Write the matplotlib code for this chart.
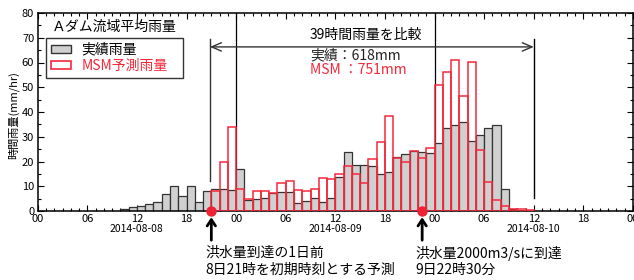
import matplotlib
matplotlib.use('Agg')
import matplotlib.pyplot as plt
import matplotlib.dates as mdates
from matplotlib.patches import Patch
from matplotlib.ticker import MultipleLocator
import pandas as pd

plt.rcParams['font.family'] = ['Noto Sans CJK JP', 'DejaVu Sans']
NUM = ['Liberation Sans Narrow', 'Noto Sans CJK JP', 'DejaVu Sans']

# ---------------- data ----------------
obs_start = '2014-08-08 10:00'
obs_values = [0.8, 1.5, 2.0, 3.0, 3.6, 6.7, 10.1, 6.2, 9.9, 3.5, 7.9,
              8.8, 9.0, 8.4, 17.1, 4.6, 4.7, 5.4, 7.3, 7.6, 7.6,
              3.4, 3.9, 5.1, 3.6, 5.1, 13.7, 23.7, 18.5, 18.5, 18.2,
              14.8, 15.9, 22.0, 23.2, 24.3, 24.0, 23.3, 27.6, 33.7, 34.8,
              35.9, 28.3, 30.6, 33.7, 34.6, 9.0, 0.8]
msm_start = '2014-08-08 21:00'
msm_values = [8.0, 19.7, 33.9, 9.0, 4.7, 8.0, 8.0, 7.3, 11.2, 12.3,
              8.5, 8.2, 9.0, 13.4, 13.1, 14.8, 18.3, 14.8, 11.5, 21.2,
              27.9, 38.5, 21.5, 20.0, 24.4, 21.3, 25.3, 50.9, 56.0, 61.1,
              46.4, 60.3, 24.8, 11.9, 4.4, 2.0, 1.0, 0.7, 0.4]
series_labels = ['実績雨量', 'MSM予測雨量']
title = 'Ａダム流域平均雨量'
ylabel = '時間雨量(mm/hr)'
date_labels = ['2014-08-08', '2014-08-09', '2014-08-10']
compare_title = '39時間雨量を比較'
compare_obs = '実績：618mm'
compare_msm = 'MSM ：751mm'
init_time = '2014-08-08 21:00'
flood_time = '2014-08-09 22:30'
note_left = ['洪水量到達の1日前', '8日21時を初期時刻とする予測']
note_right = ['洪水量2000m3/sに到達', '9日22時30分']

RED = '#f5283a'
GRAY = '#d0d0d0'
EDGE = '#333333'

W, H = 634, 280
fig = plt.figure(figsize=(W / 100, H / 100), dpi=100)
ax = fig.add_axes([37.7 / W, 1 - 211 / H, (633 - 37.7) / W, (211 - 13) / H])

obs_t = mdates.date2num(pd.date_range(obs_start, periods=len(obs_values), freq='h'))
msm_t = mdates.date2num(pd.date_range(msm_start, periods=len(msm_values), freq='h'))
hw = 1 / 24

ax.bar(obs_t, obs_values, width=hw, align='edge', color=GRAY,
       edgecolor=EDGE, linewidth=0.9, zorder=2)
ax.bar(msm_t, msm_values, width=hw, align='edge', fill=False,
       edgecolor=RED, linewidth=1.1, zorder=3)

t0 = mdates.date2num(pd.Timestamp('2014-08-08'))
for d in [1, 2]:
    ax.axvline(t0 + d, color='black', lw=0.9, zorder=1)

ax.set_xlim(t0, t0 + 3)
ax.set_ylim(0, 80)

ax.xaxis.set_major_locator(mdates.HourLocator(byhour=[0, 6, 12, 18]))
ax.xaxis.set_minor_locator(mdates.HourLocator())
ax.xaxis.set_major_formatter(mdates.DateFormatter('%H'))
ax.yaxis.set_major_locator(MultipleLocator(10))
ax.yaxis.set_minor_locator(MultipleLocator(5))
ax.tick_params(which='both', direction='in', top=True, right=True,
               labelsize=8, width=0.8)
ax.tick_params(which='major', length=4, pad=2.5)
ax.tick_params(which='minor', length=2)
for lab in ax.get_xticklabels() + ax.get_yticklabels():
    lab.set_family(NUM)
for s in ax.spines.values():
    s.set_linewidth(1.1)

trans = ax.get_xaxis_transform()
for i, dl in enumerate(date_labels):
    ax.text(t0 + i + 0.5, (211 - 229) / 198, dl, transform=trans,
            ha='center', va='center', fontsize=7.5, family=NUM)

fig.text(13 / W, 1 - 115 / H, ylabel, rotation=90, ha='center',
         va='center', fontsize=8, family=NUM)
fig.text(52 / W, 1 - 27 / H, title, ha='left', va='center', fontsize=10)

handles = [Patch(facecolor=GRAY, edgecolor=EDGE, lw=1),
           Patch(facecolor='white', edgecolor=RED, lw=1.2)]
leg = ax.legend(handles, series_labels, loc='upper left',
                bbox_to_anchor=(46 / W, 1 - 79 / H, 137 / W, 41 / H),
                bbox_transform=fig.transFigure, mode='expand',
                fontsize=10, fancybox=False, edgecolor=EDGE,
                framealpha=1, borderpad=0.35, labelspacing=0.15,
                handlelength=1.45, handleheight=0.6, handletextpad=0.75,
                borderaxespad=0)
leg.get_frame().set_linewidth(1.0)
leg.get_texts()[1].set_color(RED)
leg.set_zorder(6)

# comparison bracket
tl = t0 + 20.83 / 24
tr = t0 + 60 / 24
ax.plot([tl, tl], [12.1, 69.6], color=EDGE, lw=1, zorder=4)
ax.plot([tr, tr], [5.3, 69.6], color='black', lw=1, zorder=4)
ax.annotate('', xy=(tl, 66.3), xytext=(tr, 66.3),
            arrowprops=dict(arrowstyle='<->,head_length=0.7,head_width=0.3',
                            lw=1, color=EDGE, shrinkA=0, shrinkB=0), zorder=4)
fig.text(310 / W, 1 - 35 / H, compare_title, ha='left', va='center',
         fontsize=10, family=NUM)
fig.text(310 / W, 1 - 55 / H, compare_obs, ha='left', va='center',
         fontsize=10, family=NUM, color='#222222')
fig.text(310 / W, 1 - 70 / H, compare_msm, ha='left', va='center',
         fontsize=10, family=NUM, color=RED)

# event markers
ti = mdates.date2num(pd.Timestamp(init_time))
tf = mdates.date2num(pd.Timestamp(flood_time))
ax.plot([ti, tf], [0, 0], 'o', color='#ee2233', ms=6.5, clip_on=False, zorder=7)
for t in [ti, tf]:
    ax.annotate('', xy=(t, -2.5), xytext=(t, -11.8), xycoords='data',
                arrowprops=dict(arrowstyle='->,head_length=0.45,head_width=0.3',
                                lw=2, color='black', shrinkA=0, shrinkB=0),
                annotation_clip=False)

for i, s in enumerate(note_left):
    fig.text(205 / W, 1 - (253 + 17 * i) / H, s, ha='left', va='center',
             fontsize=10, family=NUM)
for i, s in enumerate(note_right):
    fig.text(415 / W, 1 - (253 + 17 * i) / H, s, ha='left', va='center',
             fontsize=10, family=NUM)

fig.savefig('out.png', dpi=100)
